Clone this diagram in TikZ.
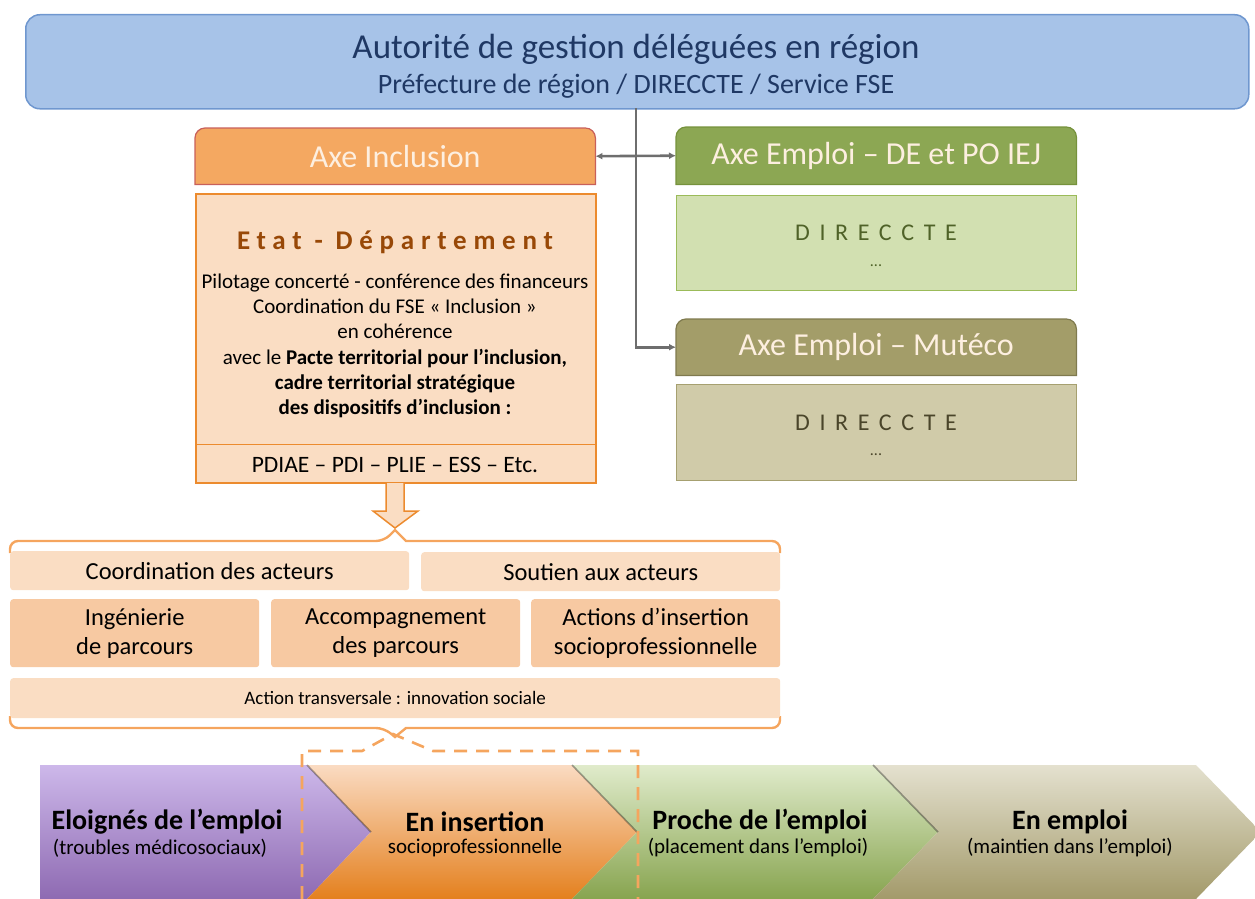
\documentclass[tikz,border=0pt]{standalone}
\usepackage{fontspec}
\setmainfont{Carlito}
\newfontfamily\spacedA[LetterSpace=25]{Carlito}
\newfontfamily\spacedB[LetterSpace=40]{Carlito}
\usetikzlibrary{arrows.meta}
\definecolor{topfill}{HTML}{A7C3E8}
\definecolor{topdraw}{HTML}{6F97CF}
\definecolor{topText}{HTML}{1F3864}
\definecolor{inclHead}{HTML}{F4A861}
\definecolor{inclHeadDraw}{HTML}{C8605A}
\definecolor{cream}{HTML}{FDEFE0}
\definecolor{peach}{HTML}{FADDC3}
\definecolor{peachDraw}{HTML}{EC8B2E}
\definecolor{peachMid}{HTML}{F7C9A2}
\definecolor{brownT}{HTML}{984807}
\definecolor{greenHead}{HTML}{8CA753}
\definecolor{greenHeadDraw}{HTML}{76923C}
\definecolor{greenBody}{HTML}{D2E0B1}
\definecolor{greenBodyDraw}{HTML}{9BBB59}
\definecolor{greenT}{HTML}{4F6228}
\definecolor{oliveHead}{HTML}{A39D69}
\definecolor{oliveHeadDraw}{HTML}{7F7A4E}
\definecolor{oliveBody}{HTML}{D0CBA9}
\definecolor{oliveBodyDraw}{HTML}{A6A070}
\definecolor{oliveT}{HTML}{4A452A}
\definecolor{braceOr}{HTML}{F5A55E}
\definecolor{connGray}{HTML}{6E6E6E}
\definecolor{purT}{HTML}{CDB8EA}
\definecolor{purB}{HTML}{8E6AB2}
\definecolor{orT}{HTML}{FADBC2}
\definecolor{orB}{HTML}{E4801E}
\definecolor{grT}{HTML}{E0EBCB}
\definecolor{grB}{HTML}{87A44F}
\definecolor{olT}{HTML}{E4E1CF}
\definecolor{olB}{HTML}{A39A6A}
\tikzset{
  conn/.style={draw=connGray, line width=2.6pt},
  tip/.style={-{Latex[length=7pt,width=7pt]}},
  headtxt/.style={text=cream, font=\fontsize{32}{34}\selectfont},
  rowbox/.style={fill=peach, draw=none, rounded corners=3pt, font=\fontsize{24.5}{29}\selectfont, align=center, anchor=north west, inner sep=0pt},
  midbox/.style={rowbox, fill=peachMid},
  chevtitle/.style={font=\bfseries\fontsize{28}{30}\selectfont, align=center},
  chevsub/.style={font=\fontsize{21}{23}\selectfont, align=center},
  dashline/.style={draw=braceOr, line width=2.6pt, dash pattern=on 13pt off 9pt},
  bracestyle/.style={draw=braceOr, line width=2.4pt, rounded corners=8pt}
}
\begin{document}
\begin{tikzpicture}[x=1pt,y=-1pt]
\useasboundingbox (0,0) rectangle (1255,899);
% ---------- top box ----------
\node[fill=topfill, draw=topdraw, line width=1.5pt, rounded corners=14pt,
      minimum width=1223pt, minimum height=94pt, anchor=north west, inner sep=0pt] (top) at (25,14) {};
\node[text=topText, font=\fontsize{35}{37}\selectfont] (topT1) at (636,49) {Autorité de gestion déléguées en région};
\node[text=topText, font=\fontsize{28}{30}\selectfont] (topT2) at (636,86) {Préfecture de région / DIRECCTE / Service FSE};
% ---------- Axe Inclusion ----------
\node[minimum width=400pt, minimum height=56pt, anchor=north west, inner sep=0pt] (incl) at (195,128) {};
\draw[fill=inclHead, draw=inclHeadDraw, line width=1.2pt]
  (incl.south west) [rounded corners=10pt] -- (incl.north west) -- (incl.north east) [sharp corners] -- (incl.south east) -- cycle;
\node[headtxt] (inclT) at (incl.center) {Axe Inclusion};
\node[fill=peach, draw=peachDraw, line width=1.5pt, minimum width=400pt, minimum height=289pt,
      anchor=north west, inner sep=0pt] (inclBody) at (195,193) {};
\draw[draw=peachDraw, line width=0.8pt] (195,444) -- (595,444);
\node[text=brownT, font=\spacedA\bfseries\fontsize{27}{29}\selectfont] (etat) at (395,242) {Etat - Département};
\node[font=\fontsize{21}{25.3}\selectfont, align=center, anchor=north] (pilot) at (395,270)
 {Pilotage concerté - conférence des financeurs\\
  Coordination du FSE «~Inclusion~»\\
  en cohérence\\
  avec le \textbf{Pacte territorial pour l’inclusion,}\\
  \textbf{cadre territorial stratégique}\\
  \textbf{des dispositifs d’inclusion :}};
\node[font=\fontsize{23.5}{25}\selectfont] (pdiae) at (395,465) {PDIAE – PDI – PLIE – ESS – Etc.};
% block arrow
\draw[fill=peach, draw=peachDraw, line width=1.5pt, line join=miter]
  (386,483) -- (386,511) -- (373,511) -- (395,528) -- (418,511) -- (404,511) -- (404,483);
% ---------- Axe Emploi DE ----------
\node[minimum width=400pt, minimum height=57pt, anchor=north west, inner sep=0pt] (de) at (676,127) {};
\draw[fill=greenHead, draw=greenHeadDraw, line width=1.2pt]
  (de.south west) [rounded corners=10pt] -- (de.north west) -- (de.north east) [sharp corners] -- (de.south east) -- cycle;
\node[headtxt] (deT) at (de.center) {Axe Emploi – DE et PO IEJ};
\node[fill=greenBody, draw=greenBodyDraw, line width=1.3pt, minimum width=400pt, minimum height=95pt,
      anchor=north west, inner sep=0pt] (deBody) at (676,195) {};
\node[text=greenT, font=\spacedB\fontsize{24}{26}\selectfont] (deD) at (876,233) {DIRECCTE};
\node[text=greenT, font=\fontsize{16}{18}\selectfont] (deDots) at (876,266) {...};
% ---------- Axe Emploi Muteco ----------
\node[minimum width=400pt, minimum height=56pt, anchor=north west, inner sep=0pt] (mut) at (676,319) {};
\draw[fill=oliveHead, draw=oliveHeadDraw, line width=1.2pt]
  (mut.south west) [rounded corners=10pt] -- (mut.north west) -- (mut.north east) [sharp corners] -- (mut.south east) -- cycle;
\node[headtxt] (mutT) at (mut.center) {Axe Emploi – Mutéco};
\node[fill=oliveBody, draw=oliveBodyDraw, line width=1.3pt, minimum width=400pt, minimum height=96pt,
      anchor=north west, inner sep=0pt] (mutBody) at (676,384) {};
\node[text=oliveT, font=\spacedB\fontsize{24}{26}\selectfont] (mutD) at (876,423) {DIRECCTE};
\node[text=oliveT, font=\fontsize{16}{18}\selectfont] (mutDots) at (876,455) {...};
% ---------- connectors ----------
\coordinate (trunk) at (636,108);
\draw[conn, tip] (trunk) |- (mut.west);
\draw[conn, {Latex[length=7pt,width=7pt]}-{Latex[length=7pt,width=7pt]}] (incl.east) -- (de.west);
% ---------- braces ----------
\draw[bracestyle] (10,553) -- (10,541) -- (384,541) [sharp corners] -- (395,530) -- (406,541) [rounded corners=8pt] -- (780,541) -- (780,553);
\draw[bracestyle] (10,716) -- (10,728) -- (384,728) [sharp corners] -- (395,737) -- (406,728) [rounded corners=8pt] -- (780,728) -- (780,716);
% rows
\node[rowbox, minimum width=399pt, minimum height=39pt] (coord) at (10,551) {Coordination des acteurs};
\node[rowbox, minimum width=359pt, minimum height=39pt] (sout) at (421,552) {Soutien aux acteurs};
\node[midbox, minimum width=249pt, minimum height=68pt] (inge) at (10,599) {Ingénierie\\de parcours};
\node[midbox, minimum width=249pt, minimum height=68pt] (acc) at (271,599) {Accompagnement\\des parcours};
\node[midbox, minimum width=249pt, minimum height=68pt] (act) at (531,599) {Actions d’insertion\\socioprofessionnelle};
\node[rowbox, minimum width=770pt, minimum height=40pt, font=\fontsize{19}{21}\selectfont] (trans) at (10,678) {Action transversale : innovation sociale};
% ---------- chevrons ----------
\shade[top color=purT, bottom color=purB]
  (40,765) -- (307,765) -- (371,832) -- (307,899) -- (40,899) -- cycle;
\shade[top color=orT, bottom color=orB]
  (307,765) -- (572,765) -- (637,832) -- (572,899) -- (307,899) -- (371,832) -- cycle;
\shade[top color=grT, bottom color=grB]
  (572,765) -- (873,765) -- (938,832) -- (873,899) -- (572,899) -- (637,832) -- cycle;
\shade[top color=olT, bottom color=olB]
  (873,765) -- (1196,765) -- (1261,832) -- (1196,899) -- (873,899) -- (938,832) -- cycle;
\draw[black, opacity=0.35, line width=1.6pt] (307,765) -- (371,832);
\draw[black, opacity=0.35, line width=1.6pt] (572,765) -- (637,832);
\draw[black, opacity=0.35, line width=1.6pt] (873,765) -- (938,832);
\node[chevtitle] (c1) at (167,822) {Eloignés de l’emploi};
\node[chevsub] (c1s) at (160,848) {(troubles médicosociaux)};
\node[chevtitle] (c2) at (475,822) {En insertion};
\node[chevsub] (c2s) at (475,848) {socioprofessionnelle};
\node[chevtitle] (c3) at (760,822) {Proche de l’emploi};
\node[chevsub] (c3s) at (758,848) {(placement dans l’emploi)};
\node[chevtitle] (c4) at (1070,822) {En emploi};
\node[chevsub] (c4s) at (1070,848) {(maintien dans l’emploi)};
% ---------- dashed bracket ----------
\draw[dashline] (302,899) -- (302,751) -- (362,751) -- (393,734) -- (433,751) -- (638,751) -- (638,899);
\end{tikzpicture}
\end{document}
